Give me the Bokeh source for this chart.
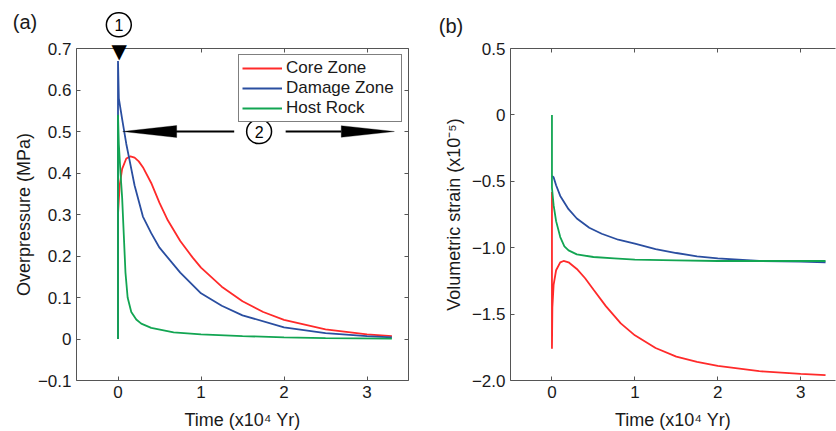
from bokeh.plotting import figure
from bokeh.models import (LinearAxis, FixedTicker, Range1d, Label, PolyAnnotation,
                          Legend, LegendItem)
from bokeh.layouts import row
from bokeh.embed import file_html
from bokeh.resources import INLINE

# ---------------- data ----------------
series_names = ["Core Zone", "Damage Zone", "Host Rock"]

# Panel (a): overpressure (MPa) vs time (x10^4 yr)
t_core_p = [0, 0, 0.02, 0.05, 0.1, 0.15, 0.2, 0.25, 0.3, 0.4, 0.5, 0.6, 0.75, 0.9, 1.0, 1.25, 1.5, 1.75, 2.0, 2.5, 3.0, 3.3]
core_p = [0, 0.30, 0.37, 0.41, 0.435, 0.44, 0.437, 0.428, 0.414, 0.376, 0.328, 0.286, 0.236, 0.196, 0.172, 0.126, 0.091, 0.065, 0.046, 0.023, 0.011, 0.007]

t_dmg_p = [0, 0, 0.01, 0.05, 0.1, 0.13, 0.2, 0.3, 0.4, 0.5, 0.75, 1.0, 1.25, 1.5, 2.0, 2.5, 3.0, 3.3]
dmg_p = [0, 0.67, 0.58, 0.53, 0.47, 0.44, 0.37, 0.295, 0.255, 0.22, 0.16, 0.11, 0.08, 0.057, 0.028, 0.014, 0.007, 0.004]

t_host_p = [0, 0, 0.01, 0.03, 0.05, 0.07, 0.09, 0.116, 0.16, 0.22, 0.28, 0.4, 0.67, 1.0, 1.5, 2.0, 2.5, 3.3]
host_p = [0, 0.54, 0.47, 0.40, 0.34, 0.25, 0.16, 0.10, 0.065, 0.047, 0.037, 0.027, 0.016, 0.011, 0.007, 0.004, 0.002, 0.001]

# Panel (b): volumetric strain (x10^-5) vs time (x10^4 yr)
t_core_s = [0, 0, 0.005, 0.02, 0.05, 0.1, 0.14, 0.2, 0.3, 0.4, 0.5, 0.65, 0.83, 1.0, 1.25, 1.5, 1.75, 2.0, 2.5, 3.0, 3.3]
core_s = [-0.58, -1.76, -1.45, -1.28, -1.17, -1.11, -1.10, -1.11, -1.16, -1.23, -1.315, -1.44, -1.57, -1.66, -1.755, -1.82, -1.86, -1.89, -1.93, -1.95, -1.96]

t_dmg_s = [0, 0.02, 0.05, 0.1, 0.2, 0.3, 0.45, 0.6, 0.8, 1.0, 1.25, 1.5, 1.75, 2.0, 2.5, 3.0, 3.3]
dmg_s = [-0.46, -0.47, -0.53, -0.61, -0.71, -0.78, -0.85, -0.895, -0.94, -0.97, -1.01, -1.04, -1.065, -1.08, -1.10, -1.105, -1.11]

t_host_s = [0, 0, 0.02, 0.05, 0.1, 0.15, 0.2, 0.3, 0.5, 0.75, 1.0, 1.5, 2.0, 2.5, 3.3]
host_s = [0, -0.55, -0.68, -0.80, -0.92, -0.99, -1.02, -1.05, -1.07, -1.08, -1.09, -1.095, -1.10, -1.10, -1.10]

xticks = [0, 1, 2, 3]
xtick_labels = ["0", "1", "2", "3"]
p_yticks = [-0.1, 0, 0.1, 0.2, 0.3, 0.4, 0.5, 0.6, 0.7]
p_ytick_labels = ["\u22120.1", "0", "0.1", "0.2", "0.3", "0.4", "0.5", "0.6", "0.7"]
s_yticks = [-2.0, -1.5, -1.0, -0.5, 0, 0.5]
s_ytick_labels = ["\u22122.0", "\u22121.5", "\u22121.0", "\u22120.5", "0", "0.5"]

# ---------------- style ----------------
FONT = "Liberation Sans"
COLORS = ["#FF2A2A", "#2A4EA0", "#12A552"]
AX = "#555555"
LW = 1.8


def style_axis(ax, ticks, labels, show_labels=True, label_standoff=5):
    ax.ticker = FixedTicker(ticks=ticks)
    ax.major_label_overrides = {float(t): (l if show_labels else "") for t, l in zip(ticks, labels)}
    ax.minor_tick_line_color = None
    ax.major_tick_in = 4
    ax.major_tick_out = 0
    ax.axis_line_color = AX
    ax.major_tick_line_color = AX
    ax.major_label_text_font = FONT
    ax.major_label_text_font_size = "17px" if show_labels else "1px"
    ax.major_label_text_color = "#1a1a1a"
    ax.major_label_standoff = 5 if show_labels else 0
    ax.axis_label_text_font = FONT
    ax.axis_label_text_font_size = "18px"
    ax.axis_label_text_font_style = "normal"
    ax.axis_label_text_color = "#1a1a1a"
    ax.axis_label_standoff = label_standoff


def make_fig(xr, yr, fw, bl, br):
    p = figure(frame_width=fw, frame_height=332, x_range=xr, y_range=yr,
               min_border_left=bl, min_border_right=br, min_border_top=48, min_border_bottom=51,
               output_backend="svg", toolbar_location=None, outline_line_color=None,
               background_fill_color="white", border_fill_color="white")
    p.xgrid.visible = False
    p.ygrid.visible = False
    return p


def circled(x, y, text):
    return Label(x=x, y=y, text=text, text_align="center", text_baseline="middle",
                 text_font=FONT, text_font_size="16px", text_color="black",
                 background_fill_color="white", background_fill_alpha=1,
                 border_line_color="black", border_line_width=1.5, border_radius=12,
                 padding=dict(left=8, right=8, top=6, bottom=6))


# ---------------- panel (a) ----------------
p1 = make_fig(Range1d(-0.5, 3.5), Range1d(-0.1, 0.7), 332, 76, 30)
r_c = p1.line(t_core_p, core_p, line_color=COLORS[0], line_width=LW)
r_d = p1.line(t_dmg_p, dmg_p, line_color=COLORS[1], line_width=LW)
r_h = p1.line(t_host_p, host_p, line_color=COLORS[2], line_width=LW)

style_axis(p1.xaxis[0], xticks, xtick_labels, label_standoff=9)
style_axis(p1.yaxis[0], p_yticks, p_ytick_labels, label_standoff=1)
p1.xaxis[0].axis_label = "Time (x10\u2074 Yr)"
p1.yaxis[0].axis_label = "Overpressure (MPa)"
top1 = LinearAxis()
style_axis(top1, xticks, xtick_labels, show_labels=False)
p1.add_layout(top1, "above")
right1 = LinearAxis()
style_axis(right1, p_yticks, p_ytick_labels, show_labels=False)
p1.add_layout(right1, "right")

legend = Legend(items=[LegendItem(label=n, renderers=[r]) for n, r in zip(series_names, [r_c, r_d, r_h])],
                location="top_right", margin=6, padding=3, spacing=0,
                glyph_width=40, glyph_height=20, label_standoff=4, label_height=20, label_width=112,
                label_text_font=FONT, label_text_font_size="17px", label_text_color="#1a1a1a",
                border_line_color="black", border_line_width=1,
                background_fill_color="white", background_fill_alpha=1)
p1.add_layout(legend)

# annotations of panel (a): labels outside the frame live in side panels (not clipped)
p1.add_layout(Label(x=-1.12, y=0.763, text="(a)", text_align="center", text_baseline="middle",
                    text_font=FONT, text_font_size="20px", text_color="#1a1a1a"), "above")
p1.add_layout(Label(x=0.015, y=0.694, text="\u25BC", text_align="center", text_baseline="middle",
                    text_font="DejaVu Sans", text_font_size="20px", text_color="black"), "above")
p1.add_layout(circled(0.01, 0.757, "1"), "right")
p1.segment(x0=[0.70, 2.02], y0=[0.5, 0.5], x1=[1.40, 2.69], y1=[0.5, 0.5],
           line_color="black", line_width=2)
p1.add_layout(PolyAnnotation(xs=[0.057, 0.707, 0.707], ys=[0.5, 0.5145, 0.4855],
                             fill_color="black", fill_alpha=1, line_color="black"))
p1.add_layout(PolyAnnotation(xs=[3.33, 2.69, 2.69], ys=[0.5, 0.514, 0.486],
                             fill_color="black", fill_alpha=1, line_color="black"))
p1.add_layout(circled(1.70, 0.5, "2"))

# ---------------- panel (b) ----------------
p2 = make_fig(Range1d(-0.5, 3.42), Range1d(-2.0, 0.5), 325, 72, 1)
p2.line(t_core_s, core_s, line_color=COLORS[0], line_width=LW)
p2.line(t_dmg_s, dmg_s, line_color=COLORS[1], line_width=LW)
p2.line(t_host_s, host_s, line_color=COLORS[2], line_width=LW)

style_axis(p2.xaxis[0], xticks, xtick_labels, label_standoff=9)
style_axis(p2.yaxis[0], s_yticks, s_ytick_labels, label_standoff=5)
p2.xaxis[0].axis_label = "Time (x10\u2074 Yr)"
p2.yaxis[0].axis_label = "Volumetric strain (x10\u207b\u2075)"
top2 = LinearAxis()
style_axis(top2, xticks, xtick_labels, show_labels=False)
p2.add_layout(top2, "above")

p2.add_layout(Label(x=-1.217, y=0.673, text="(b)", text_align="center", text_baseline="middle",
                    text_font=FONT, text_font_size="20px", text_color="#1a1a1a"), "above")

layout = row(p1, p2)
open("out.html", "w").write(file_html(layout, INLINE))
